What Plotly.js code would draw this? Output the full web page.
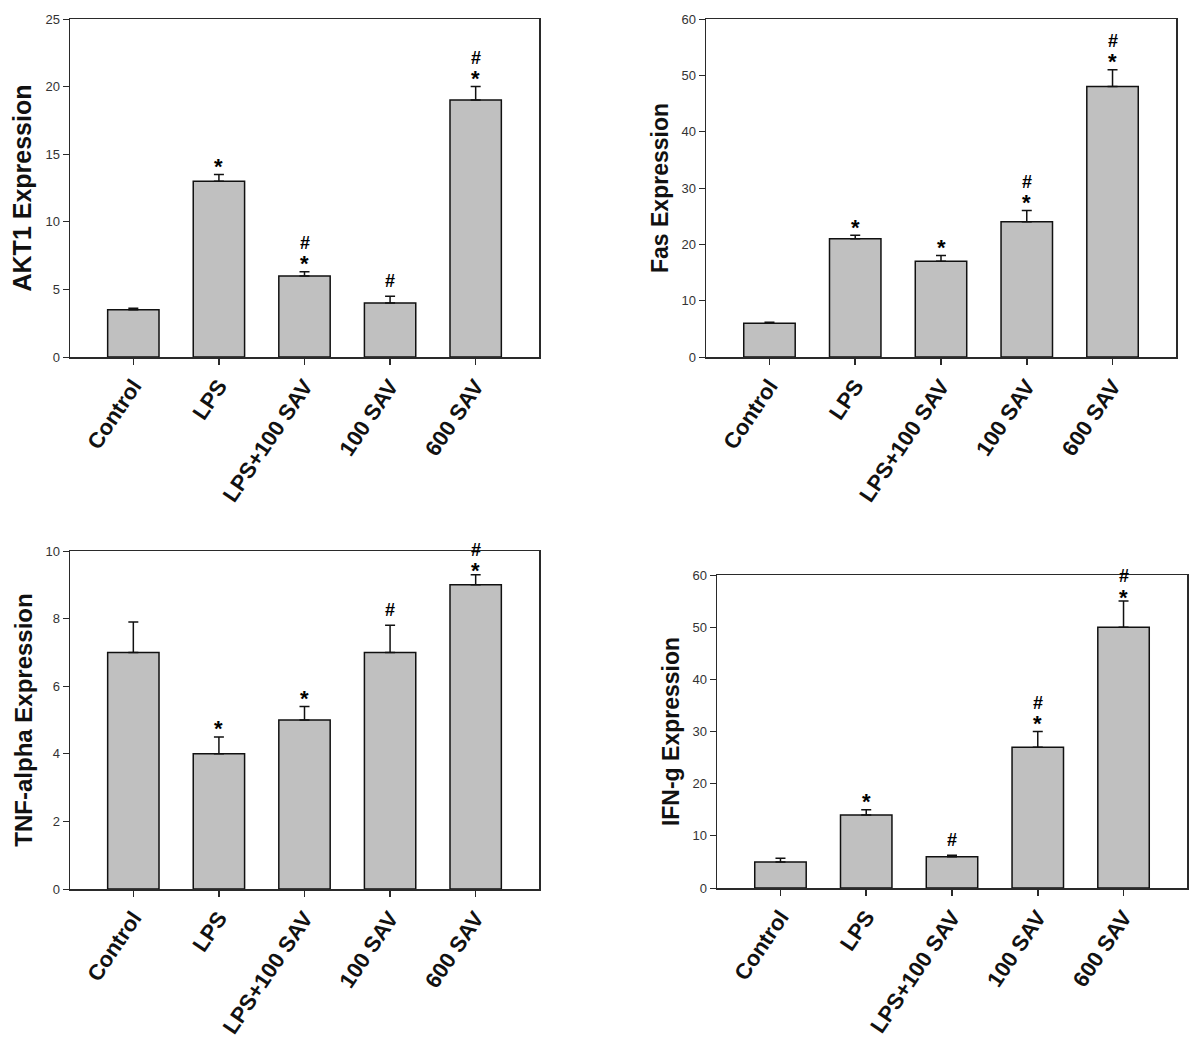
<!DOCTYPE html>
<html>
<head>
<meta charset="utf-8">
<script src="https://cdn.plot.ly/plotly-3.0.1.min.js"></script>
<style>html,body{margin:0;padding:0;background:#fff;}#chart{width:1200px;height:1041px;}</style>
</head>
<body>
<div id="chart"></div>
<script>
// ---- data ----
const categories = ["Control", "LPS", "LPS+100 SAV", "100 SAV", "600 SAV"];

const akt1Mean = [3.5, 13, 6, 4, 19];
const akt1Err  = [0.1, 0.5, 0.3, 0.5, 1.0];
const akt1Sig  = ["", "*", "*#", "#", "*#"];

const fasMean = [6, 21, 17, 24, 48];
const fasErr  = [0.15, 0.6, 1.0, 2.0, 3.0];
const fasSig  = ["", "*", "*", "*#", "*#"];

const tnfMean = [7, 4, 5, 7, 9];
const tnfErr  = [0.9, 0.5, 0.4, 0.8, 0.3];
const tnfSig  = ["", "*", "*", "#", "*#"];

const ifnMean = [5, 14, 6, 27, 50];
const ifnErr  = [0.7, 1.0, 0.3, 3.0, 5.0];
const ifnSig  = ["", "*", "#", "*#", "*#"];

const yTitles = ["AKT1 Expression", "Fas Expression", "TNF-alpha Expression", "IFN-g Expression"];
const yMax    = [25, 60, 10, 60];
const yStep   = [5, 10, 2, 10];

// ---- layout / styling ----
const W = 1200, H = 1041;
const panels = [
  {mean: akt1Mean, err: akt1Err, sig: akt1Sig, box: [70, 539, 19, 357], tight: [], titleSize: 25},
  {mean: fasMean,  err: fasErr,  sig: fasSig,  box: [706, 1176, 19, 357], tight: [], titleSize: 23},
  {mean: tnfMean,  err: tnfErr,  sig: tnfSig,  box: [70, 539, 551, 889], tight: [4], titleSize: 24},
  {mean: ifnMean,  err: ifnErr,  sig: ifnSig,  box: [717, 1187, 575, 888], tight: [4], titleSize: 23}
];

const FONT = "Arial, 'Liberation Sans', sans-serif";
const frameColor = "#2a2a2a";
const traces = [];
const layout = {
  width: W, height: H,
  margin: {l: 0, r: 0, t: 0, b: 0},
  paper_bgcolor: "#ffffff",
  plot_bgcolor: "#ffffff",
  showlegend: false,
  annotations: [],
  font: {family: FONT, color: "#222"}
};

panels.forEach((p, i) => {
  const n = i + 1;
  const xa = "x" + (n === 1 ? "" : n);
  const ya = "y" + (n === 1 ? "" : n);
  const [x0, x1, y0, y1] = p.box;

  traces.push({
    type: "bar",
    x: categories,
    y: p.mean,
    xaxis: xa, yaxis: ya,
    width: 0.6,
    marker: {color: "#c0c0c0", line: {color: "#111", width: 1.5}},
    error_y: {
      type: "data", symmetric: false,
      array: p.err, arrayminus: p.err.map(() => 0),
      color: "#111", thickness: 1.5, width: 5
    },
    hoverinfo: "x+y"
  });

  layout["xaxis" + (n === 1 ? "" : n)] = {
    domain: [x0 / W, x1 / W],
    anchor: ya,
    type: "category",
    range: [-0.74, 4.74],
    showline: true, mirror: true, linecolor: frameColor, linewidth: 1.5,
    ticks: "outside", ticklen: 6, tickwidth: 1.5, tickcolor: frameColor,
    tickangle: -56,
    tickfont: {family: FONT, size: 22, color: "#111", weight: "bold"},
    showgrid: false, zeroline: false, automargin: false, fixedrange: true
  };
  layout["yaxis" + (n === 1 ? "" : n)] = {
    domain: [1 - y1 / H, 1 - y0 / H],
    anchor: xa,
    range: [0, yMax[i]],
    dtick: yStep[i], tick0: 0,
    showline: true, mirror: true, linecolor: frameColor, linewidth: 1.5,
    ticks: "outside", ticklen: 6, tickwidth: 1, tickcolor: frameColor,
    tickfont: {family: FONT, size: 13, color: "#333"},
    showgrid: false, zeroline: false, automargin: false, fixedrange: true,
    title: {text: yTitles[i], font: {family: FONT, size: p.titleSize, color: "#111", weight: "bold"}, standoff: 6}
  };

  p.sig.forEach((s, k) => {
    if (!s) return;
    const top = p.mean[k] + p.err[k];
    const tight = p.tight.indexOf(k) >= 0;
    const hasStar = s.indexOf("*") >= 0;
    const hasHash = s.indexOf("#") >= 0;
    if (hasStar) {
      layout.annotations.push({
        xref: xa, yref: ya, x: categories[k], y: top,
        text: "*", showarrow: false, yanchor: "middle",
        yshift: tight ? 4 : 8,
        font: {family: FONT, size: 22, color: "#000", weight: "bold"}
      });
    }
    if (hasHash) {
      let shift = hasStar ? (tight ? 25 : 29) : 15;
      layout.annotations.push({
        xref: xa, yref: ya, x: categories[k], y: top,
        text: "#", showarrow: false, yanchor: "middle",
        yshift: shift,
        font: {family: FONT, size: 18, color: "#000", weight: "bold"}
      });
    }
  });
});

Plotly.newPlot("chart", traces, layout, {displayModeBar: false, staticPlot: true});
</script>
</body>
</html>
